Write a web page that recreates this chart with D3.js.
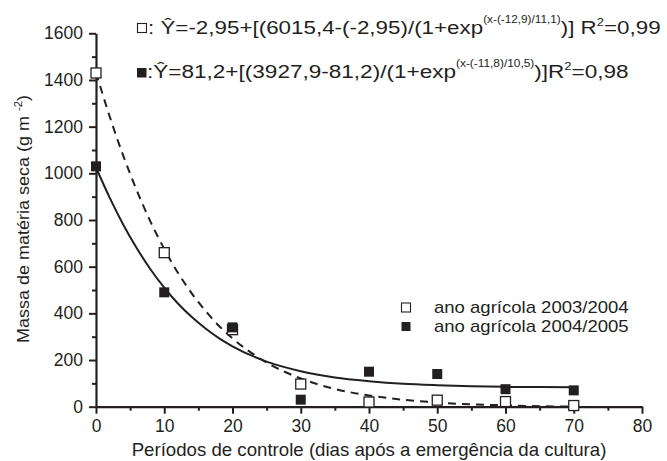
<!DOCTYPE html>
<html>
<head>
<meta charset="utf-8">
<style>
  body { margin: 0; background: #fff; }
  svg { display: block; }
  text { font-family: "Liberation Sans", Arial, sans-serif; fill: #231f20; }
</style>
</head>
<body>
<svg width="667" height="461"></svg>

<script src="https://cdnjs.cloudflare.com/ajax/libs/d3/7.8.5/d3.min.js"></script>
<script>

	// observed points, dias apos emergencia vs massa seca (g m-2)
	const periods = [0, 10, 20, 30, 40, 50, 60, 70]
	const mass2003 = [1430, 660, 330, 97, 20, 28, 22, 5]
	const mass2004 = [1030, 490, 340, 30, 150, 140, 75, 70]

	// fitted curves
	const fitDays = [0, 2, 4, 6, 8, 10, 12, 14, 16, 18, 20, 25, 30, 35, 40, 45, 50, 55, 60, 65, 70]
	const fit2003 = [1432, 1244, 1075, 925, 792, 676, 574, 487, 412, 347, 293, 189, 121, 76, 48, 30, 18, 10, 6, 2, 1]
	const fit2004 = [1025, 896, 780, 678, 588, 510, 442, 385, 336, 294, 259, 193, 152, 125, 109, 98, 92, 88, 85, 84, 83]

	const xTicks = [0, 10, 20, 30, 40, 50, 60, 70, 80]
	const xMinor = [5, 15, 25, 35, 45, 55, 65, 75]
	const yTicks = [0, 200, 400, 600, 800, 1000, 1200, 1400, 1600]
	const yMinor = [100, 300, 500, 700, 900, 1100, 1300, 1500]

	const legendLabels = ["ano agrícola 2003/2004", "ano agrícola 2004/2005"]

	const ink = "#231f20"
	const svg = d3.select("svg")

	const x = d3.scaleLinear().domain([0, 80]).range([96, 642])
	const y = d3.scaleLinear().domain([0, 1600]).range([406.7, 33.3])

	// text in its own group so it can be squeezed to a width
	function label(parent, tx, ty, size, anchor, width, rot) {
		const g = parent.append("g")
		const t = g.append("text")
			.attr("font-size", size)
			.attr("text-anchor", anchor)
		t.fit = () => {
			const k = width ? width / t.node().getBBox().width : 1
			g.attr("transform", `translate(${tx},${ty})` + (rot ? ` rotate(${rot})` : "") + ` scale(${k},1)`)
			return t
		}
		return t
	}

	// minor ticks
	svg.append("g")
		.attr("transform", `translate(0,${y(0)})`)
		.call(d3.axisBottom(x).tickValues(xMinor).tickSize(4).tickSizeOuter(0).tickFormat(""))
		.call(g => g.select(".domain").remove())
	svg.append("g")
		.attr("transform", `translate(${x(0)},0)`)
		.call(d3.axisLeft(y).tickValues(yMinor).tickSize(4).tickSizeOuter(0).tickFormat(""))
		.call(g => g.select(".domain").remove())

	svg.append("g")
		.attr("transform", `translate(0,${y(0)})`)
		.call(d3.axisBottom(x).tickValues(xTicks).tickSize(7).tickSizeOuter(0).tickPadding(6).tickFormat(d3.format("d")))
	svg.append("g")
		.attr("transform", `translate(${x(0)},0)`)
		.call(d3.axisLeft(y).tickValues(yTicks).tickSize(7).tickSizeOuter(0).tickPadding(6).tickFormat(d3.format("d")))

	svg.selectAll(".tick line").attr("stroke", ink).attr("stroke-width", 2)
	svg.selectAll(".domain").attr("stroke", ink).attr("stroke-width", 2.2)
	svg.selectAll(".tick text")
		.attr("font-family", '"Liberation Sans", Arial, sans-serif')
		.attr("font-size", 17.5)
		.attr("fill", ink)

	// curves
	const line = d3.line()
		.x(d => x(d[0]))
		.y(d => y(d[1]))
		.curve(d3.curveMonotoneX)

	svg.append("path")
		.datum(fitDays.map((d, i) => [d, fit2003[i]]))
		.attr("d", line)
		.attr("fill", "none")
		.attr("stroke", ink)
		.attr("stroke-width", 2)
		.attr("stroke-dasharray", "8,6")

	svg.append("path")
		.datum(fitDays.map((d, i) => [d, fit2004[i]]))
		.attr("d", line)
		.attr("fill", "none")
		.attr("stroke", ink)
		.attr("stroke-width", 2)

	// points
	const s = 10
	svg.append("g").selectAll("rect")
		.data(periods.map((d, i) => [d, mass2003[i]]))
		.join("rect")
			.attr("x", d => x(d[0]) - s / 2)
			.attr("y", d => y(d[1]) - s / 2)
			.attr("width", s)
			.attr("height", s)
			.attr("fill", "#fff")
			.attr("stroke", ink)
			.attr("stroke-width", 1.3)

	svg.append("g").selectAll("rect")
		.data(periods.map((d, i) => [d, mass2004[i]]))
		.join("rect")
			.attr("x", d => x(d[0]) - s / 2)
			.attr("y", d => y(d[1]) - s / 2)
			.attr("width", s)
			.attr("height", s)
			.attr("fill", ink)

	// legend
	legendLabels.forEach((txt, i) => {
		const ly = 307.5 + i * 19
		svg.append("rect")
			.attr("x", 401.5).attr("y", ly - 4.5)
			.attr("width", 9).attr("height", 9)
			.attr("fill", i ? ink : "#fff")
			.attr("stroke", ink).attr("stroke-width", i ? 0 : 1.1)
		label(svg, 434, ly + 5.8, 16, "start", 195).text(txt).fit()
	})

	// equations
	svg.append("rect").attr("x", 137.5).attr("y", 23.5).attr("width", 9).attr("height", 9)
		.attr("fill", "#fff").attr("stroke", ink).attr("stroke-width", 1.1)
	svg.append("rect").attr("x", 137).attr("y", 68).attr("width", 9.5).attr("height", 9.5)
		.attr("fill", ink)

	const eq1 = label(svg, 148, 34, 19, "start", 513)
	eq1.append("tspan").text(": Ŷ=-2,95+[(6015,4-(-2,95)/(1+exp")
	eq1.append("tspan").attr("font-size", 10).attr("dy", -11).text("(x-(-12,9)/11,1)")
	eq1.append("tspan").attr("dy", 11).text(")] R")
	eq1.append("tspan").attr("font-size", 11).attr("dy", -8).text("2")
	eq1.append("tspan").attr("dy", 8).text("=0,99")
	eq1.fit()

	const eq2 = label(svg, 147, 78, 19, "start", 482)
	eq2.append("tspan").text(":Ŷ=81,2+[(3927,9-81,2)/(1+exp")
	eq2.append("tspan").attr("font-size", 10).attr("dy", -11).text("(x-(-11,8)/10,5)")
	eq2.append("tspan").attr("dy", 11).text(")]R")
	eq2.append("tspan").attr("font-size", 11).attr("dy", -8).text("2")
	eq2.append("tspan").attr("dy", 8).text("=0,98")
	eq2.fit()

	// axis titles
	label(svg, 369, 456, 17.5, "middle", 475)
		.text("Períodos de controle (dias após a emergência da cultura)").fit()

	const yt = label(svg, 28.5, 219, 16, "middle", 248, -90)
	yt.append("tspan").text("Massa de matéria seca (g m ")
	yt.append("tspan").attr("font-size", 10).attr("dy", -7).text("-2")
	yt.append("tspan").attr("dy", 7).text(")")
	yt.fit()

</script>
</body>
</html>
